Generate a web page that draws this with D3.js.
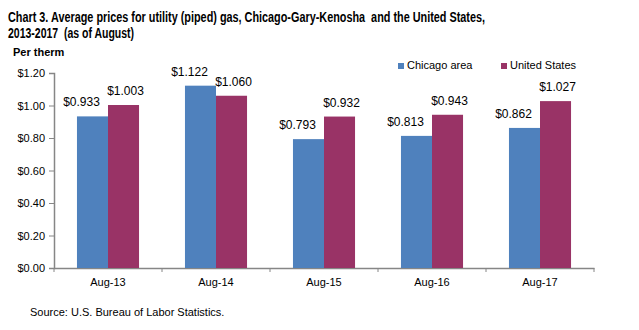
<!DOCTYPE html>
<html>
<head>
<meta charset="utf-8">
<script src="https://cdn.jsdelivr.net/npm/d3@7"></script>
<style>
  body { margin: 0; background: #fff; }
  text { font-family: "Liberation Sans", Arial, sans-serif; fill: #000; }
</style>
</head>
<body>
<div class="container"></div>
<script>
const categories = ["Aug-13", "Aug-14", "Aug-15", "Aug-16", "Aug-17"]
const chicago = [0.933, 1.122, 0.793, 0.813, 0.862]
const usa = [1.003, 1.060, 0.932, 0.943, 1.027]
const seriesNames = ["Chicago area", "United States"]
const seriesColors = ["#4f81bd", "#993366"]
const yTicks = [0, 0.2, 0.4, 0.6, 0.8, 1.0, 1.2]

const svg = d3.select(".container").append("svg")
  .attr("width", 639)
  .attr("height", 330)

// title, squeezed to look like a narrow bold face
const title = svg.append("g").attr("font-weight", "bold").attr("font-size", 14)
title.append("text").attr("x", 8).attr("y", 22)
  .style("white-space", "pre")
  .attr("textLength", 477).attr("lengthAdjust", "spacingAndGlyphs")
  .text("Chart 3. Average prices for utility (piped) gas, Chicago-Gary-Kenosha  and the United States,")
title.append("text").attr("x", 8).attr("y", 38)
  .style("white-space", "pre")
  .attr("textLength", 126).attr("lengthAdjust", "spacingAndGlyphs")
  .text("2013-2017  (as of August)")

svg.append("text")
  .attr("x", 13).attr("y", 56)
  .attr("font-size", 11).attr("font-weight", "bold")
  .text("Per therm")

const plotL = 54, plotR = 594, plotT = 73, plotB = 268

const x = d3.scaleBand().domain(categories).range([plotL, plotR])
const xs = d3.scaleBand().domain([0, 1]).range([0, x.bandwidth()]).paddingOuter(0.74).paddingInner(0)
const y = d3.scaleLinear().domain([0, 1.2]).range([plotB, plotT])

// y axis
const yAxis = svg.append("g")
  .attr("transform", `translate(${plotL},0)`)
  .call(d3.axisLeft(y).tickValues(yTicks).tickSize(5).tickPadding(4)
    .tickFormat(d => "$" + d3.format(".2f")(d)))
yAxis.selectAll("text").attr("font-size", 11).style("font-family", "'Liberation Sans', Arial, sans-serif")

// x axis
const xAxis = svg.append("g")
  .attr("transform", `translate(0,${plotB})`)
  .call(d3.axisBottom(x).tickSize(0).tickPadding(10))
xAxis.selectAll("text").attr("font-size", 11).style("font-family", "'Liberation Sans', Arial, sans-serif")
xAxis.selectAll(".sep").data(d3.range(categories.length + 1)).enter()
  .append("line")
  .attr("x1", i => plotL + i * x.step()).attr("x2", i => plotL + i * x.step())
  .attr("y1", 0).attr("y2", 4)
  .attr("stroke", "#868686")

svg.selectAll(".domain, .tick line").attr("stroke", "#868686")
svg.selectAll(".domain").attr("stroke-width", 1.5)

const series = [chicago, usa]
const labelShift = [-11, 2]

series.forEach((vals, s) => {
  svg.selectAll(".bar" + s).data(vals).enter()
    .append("rect")
    .attr("x", (d, i) => x(categories[i]) + xs(s))
    .attr("y", d => y(d))
    .attr("width", xs.bandwidth())
    .attr("height", d => plotB - y(d))
    .attr("fill", seriesColors[s])

  svg.selectAll(".lab" + s).data(vals).enter()
    .append("text")
    .attr("x", (d, i) => x(categories[i]) + xs(s) + xs.bandwidth() / 2 + labelShift[s])
    .attr("y", d => y(d) - 10)
    .attr("text-anchor", "middle")
    .attr("font-size", 12)
    .text(d => "$" + d3.format(".3f")(d))
})

// legend
const legendX = [398, 501]
seriesNames.forEach((name, s) => {
  svg.append("rect")
    .attr("x", legendX[s]).attr("y", 63)
    .attr("width", 6).attr("height", 6)
    .attr("fill", seriesColors[s])
  svg.append("text")
    .attr("x", legendX[s] + 9).attr("y", 69)
    .attr("font-size", 11)
    .text(name)
})

svg.append("text")
  .attr("x", 30).attr("y", 316)
  .attr("font-size", 11)
  .text("Source: U.S. Bureau of Labor Statistics.")
</script>
</body>
</html>
